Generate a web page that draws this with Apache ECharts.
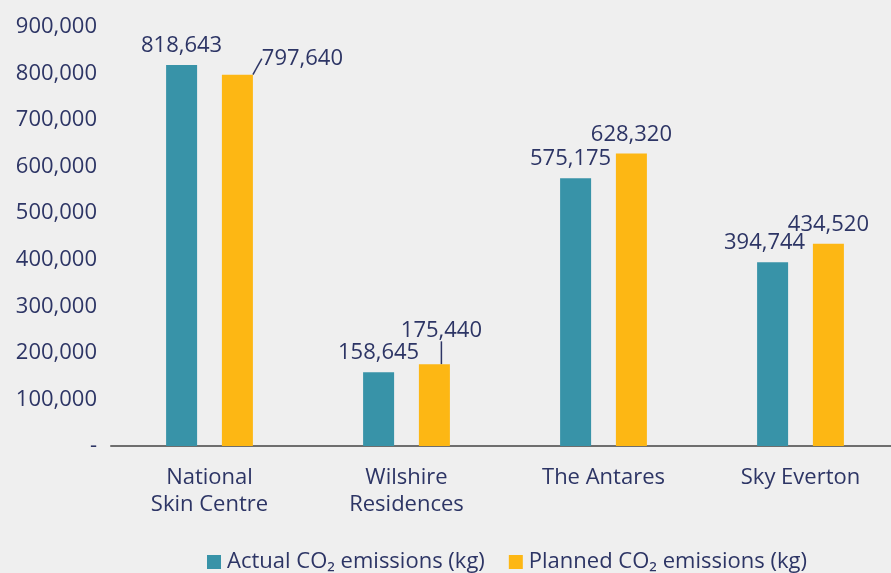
<!DOCTYPE html>
<html lang="en">
<head>
    <meta charset="UTF-8">
    <title>CO2 emissions</title>
    <style type="text/css">
        html, body {
            margin: 0;
            padding: 0;
            background-color: #efefef;
        }
        #main {
            width: 891px;
            height: 573px;
        }
    </style>
</head>
<body>
<div id="main"></div>
<script type="text/javascript" src="https://cdn.jsdelivr.net/npm/echarts@6/dist/echarts.min.js"></script>
<script type="text/javascript">
    // buildings and emissions (kg)
    var buildings = ['National\nSkin Centre', 'Wilshire\nResidences', 'The Antares', 'Sky Everton'];
    var actual = [818643, 158645, 575175, 394744];
    var planned = [797640, 175440, 628320, 434520];
    var yTickLabels = ['-', '100,000', '200,000', '300,000', '400,000', '500,000', '600,000', '700,000', '800,000', '900,000'];

    var textColor = '#2d3565';
    var font = 'Open Sans';

    // planned labels that are pulled aside get a leader line
    var plannedData = planned.map(function (v, i) {
        return { value: v, labelLine: { show: i < 2 } };
    });

    var myChart = echarts.init(document.getElementById('main'));

    var labelOpt = {
        show: true,
        position: 'top',
        distance: 8,
        color: textColor,
        fontSize: 22,
        formatter: function (p) { return p.value.toLocaleString('en-US'); }
    };

    var option = {
        backgroundColor: '#efefef',
        textStyle: { fontFamily: font },
        grid: {
            left: 111,
            top: 27,
            width: 788,
            height: 419,
            outerBoundsMode: 'none'
        },
        legend: {
            left: 207,
            top: 551,
            padding: 0,
            itemWidth: 14,
            itemHeight: 14,
            itemGap: 24,
            icon: 'rect',
            textStyle: { color: textColor, fontSize: 22, fontFamily: font, padding: [0, 0, 0, 1] },
            data: ['Actual CO\u2082 emissions (kg)', 'Planned CO\u2082 emissions (kg)']
        },
        xAxis: {
            type: 'category',
            data: buildings,
            axisTick: { show: false },
            axisLine: { lineStyle: { color: '#6e6e6e', width: 2 } },
            axisLabel: {
                color: textColor,
                fontSize: 22,
                lineHeight: 27,
                margin: 18,
                interval: 0
            }
        },
        yAxis: {
            type: 'value',
            min: 0,
            max: 900000,
            interval: 100000,
            splitLine: { show: false },
            axisLine: { show: false },
            axisTick: { show: false },
            axisLabel: {
                color: textColor,
                fontSize: 22,
                margin: 14,
                formatter: function (v) {
                    return yTickLabels[Math.round(v / 100000)];
                }
            }
        },
        series: [
            {
                name: 'Actual CO\u2082 emissions (kg)',
                type: 'bar',
                data: actual,
                barWidth: 31,
                barGap: '80%',
                itemStyle: { color: '#3893a8' },
                label: labelOpt,
                labelLayout: function (p) {
                    if (p.dataIndex === 2) return { dx: -5 };
                    if (p.dataIndex === 3) return { dx: -8 };
                    return {};
                }
            },
            {
                name: 'Planned CO\u2082 emissions (kg)',
                type: 'bar',
                data: plannedData,
                barWidth: 31,
                itemStyle: { color: '#fdb714' },
                label: labelOpt,
                labelLine: {
                    lineStyle: { color: '#2d3565', width: 1.5 }
                },
                labelLayout: function (p) {
                    if (p.dataIndex === 0) return { dx: 65, dy: 3 };
                    if (p.dataIndex === 1) return { dx: 7, dy: -15 };
                    return {};
                }
            }
        ]
    };
    myChart.setOption(option);
</script>
</body>
</html>
